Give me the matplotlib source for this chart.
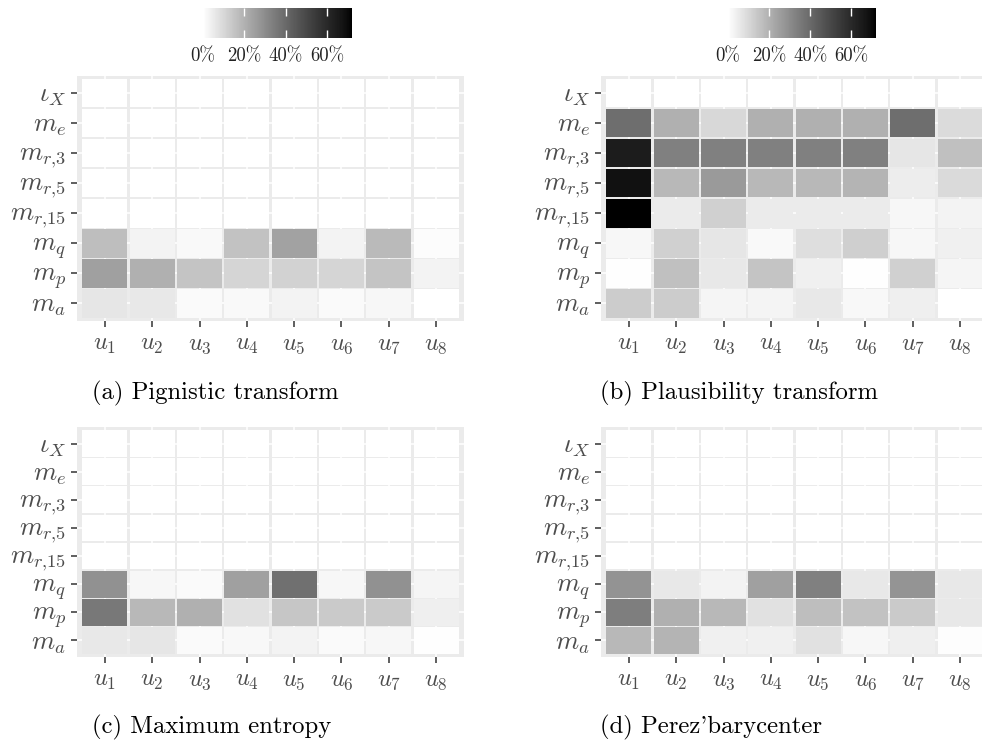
# heatmaps of the four probability transforms
import numpy as np
import matplotlib.pyplot as plt
from matplotlib.colors import ListedColormap, Normalize
from matplotlib.patches import Rectangle
from matplotlib.cm import ScalarMappable

plt.rcParams['font.family'] = 'serif'
plt.rcParams['font.serif'] = ['cmr10']
plt.rcParams['mathtext.fontset'] = 'cm'
plt.rcParams['axes.unicode_minus'] = False

# rows from top to bottom
row_labels = [r'$\iota_X$', r'$m_e$', r'$m_{r{,}3}$', r'$m_{r{,}5}$', r'$m_{r{,}15}$',
              r'$m_q$', r'$m_p$', r'$m_a$']
col_labels = [r'$u_1$', r'$u_2$', r'$u_3$', r'$u_4$', r'$u_5$', r'$u_6$', r'$u_7$', r'$u_8$']

# values in percent, one list per row (top to bottom)
pignistic = [
    [0, 0, 0, 0, 0, 0, 0, 0],
    [0, 0, 0, 0, 0, 0, 0, 0],
    [0, 0, 0, 0, 0, 0, 0, 0],
    [0, 0, 0, 0, 0, 0, 0, 0],
    [0, 0, 0, 0, 0, 0, 0, 0],
    [16.6, 3.2, 1.5, 15.6, 24.0, 3.2, 17.6, 1.0],
    [24.6, 20.3, 15.0, 10.9, 11.4, 10.9, 15.0, 3.2],
    [6.3, 5.8, 1.2, 1.5, 3.2, 1.2, 2.0, 0.0],
]
plausibility = [
    [0, 0, 0, 0, 0, 0, 0, 0],
    [38.6, 20.3, 9.9, 20.3, 20.3, 20.3, 38.6, 9.1],
    [64.6, 33.4, 33.4, 33.4, 33.4, 33.4, 6.3, 16.1],
    [68.3, 18.2, 26.2, 18.2, 18.2, 19.2, 4.5, 9.4],
    [72.0, 5.3, 11.9, 5.3, 5.3, 5.3, 2.0, 3.2],
    [2.2, 11.9, 6.3, 1.5, 8.3, 12.2, 2.0, 3.7],
    [0.5, 16.1, 5.8, 15.0, 3.7, 0.3, 11.9, 2.7],
    [13.2, 13.2, 2.7, 3.0, 5.8, 1.7, 4.2, 0.0],
]
max_entropy = [
    [0, 0, 0, 0, 0, 0, 0, 0],
    [0, 0, 0, 0, 0, 0, 0, 0],
    [0, 0, 0, 0, 0, 0, 0, 0],
    [0, 0, 0, 0, 0, 0, 0, 0],
    [0, 0, 0, 0, 0, 0, 0, 0],
    [28.9, 2.2, 1.2, 24.6, 38.0, 2.2, 28.9, 2.7],
    [35.7, 18.2, 20.3, 7.8, 14.5, 13.5, 13.5, 4.2],
    [5.8, 6.3, 1.2, 1.7, 3.2, 1.2, 2.2, 0.3],
]
perez = [
    [0, 0, 0, 0, 0, 0, 0, 0],
    [0, 0, 0, 0, 0, 0, 0, 0],
    [0, 0, 0, 0, 0, 0, 0, 0],
    [0, 0, 0, 0, 0, 0, 0, 0],
    [0, 0, 0, 0, 0, 0, 0, 0],
    [28.4, 5.8, 3.2, 24.6, 33.4, 5.8, 27.9, 5.8],
    [34.0, 20.3, 18.2, 7.8, 16.6, 15.6, 13.5, 5.8],
    [18.2, 19.2, 3.7, 3.7, 7.8, 2.2, 4.2, 0.8],
]
captions = ['(a) Pignistic transform', '(b) Plausibility transform',
            '(c) Maximum entropy', "(d) Perez'barycenter"]
vmax = 72

# white -> black gradient, linear in lightness
L = np.linspace(100, 0, 256)
Y = np.where(L > 8, ((L + 16) / 116) ** 3, L / 903.3)
g = np.where(Y <= 0.0031308, 12.92 * Y, 1.055 * Y ** (1 / 2.4) - 0.055)
cmap = ListedColormap(np.column_stack([g, g, g]))
norm = Normalize(0, vmax)

W, H = 982, 746
fig = plt.figure(figsize=(W / 100, H / 100), dpi=100)


def box(l, t, r, b):
    return [l / W, 1 - b / H, (r - l) / W, (b - t) / H]


def heatmap(ax, values):
    ax.set_facecolor('#EBEBEB')
    ax.set_axisbelow(True)
    n = len(values)
    for i, row in enumerate(values):
        for j, v in enumerate(row):
            ax.add_patch(Rectangle((j + 1 - 0.475, n - i - 0.475), 0.95, 0.95,
                                   facecolor=cmap(norm(v)), edgecolor='none', zorder=2))
    ax.set_xlim(0.41, 8.59)
    ax.set_ylim(0.41, 8.59)
    ax.set_xticks(range(1, 9))
    ax.set_xticklabels(col_labels)
    ax.set_yticks(range(1, 9))
    ax.set_yticklabels(row_labels[::-1])
    ax.grid(color='white', linewidth=1.1)
    for s in ax.spines.values():
        s.set_visible(False)
    ax.tick_params(length=4, width=1.1, color='#333333', labelcolor='#4D4D4D', pad=4)
    ax.tick_params(axis='y', labelsize=19)
    ax.tick_params(axis='x', labelsize=17.5, pad=5)


panels = [(box(77, 75.5, 464, 321), pignistic),
          (box(601, 75.5, 988, 321), plausibility),
          (box(77, 427, 464, 657), max_entropy),
          (box(601, 427, 988, 657), perez)]
for rect, vals in panels:
    heatmap(fig.add_axes(rect), vals)

# colour bars above the top panels
for l, r in [(203, 352), (728, 876)]:
    cax = fig.add_axes(box(l, 8, r, 38))
    cb = fig.colorbar(ScalarMappable(norm=norm, cmap=cmap), cax=cax, orientation='horizontal')
    cb.outline.set_visible(False)
    cb.set_ticks([0, 20, 40, 60])
    cb.set_ticklabels(['0%', '20%', '40%', '60%'])
    cax.tick_params(direction='in', length=6, width=1, color='white', top=True,
                    bottom=True, labelsize=13.5, labelcolor='#222222', pad=7)

# sub-captions
for (x, y), text in zip([(92, 393), (600, 393), (92, 727), (600, 727)], captions):
    fig.text(x / W, 1 - y / H, text, fontsize=17.8, va='center', ha='left')

fig.savefig('out.png', dpi=100)
